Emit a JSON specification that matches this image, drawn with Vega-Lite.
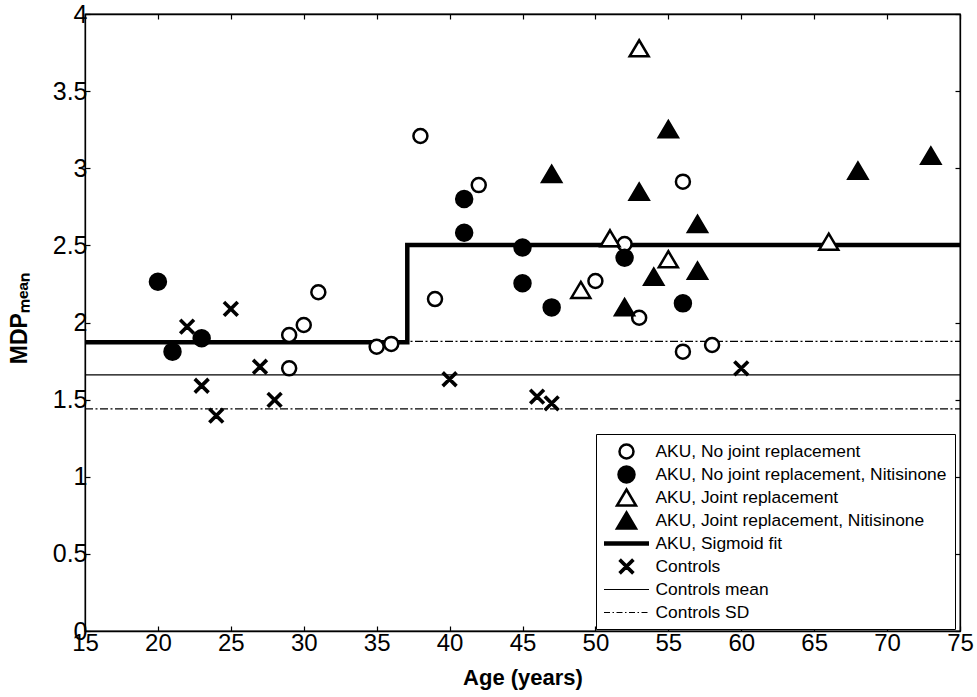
{
  "$schema": "https://vega.github.io/schema/vega-lite/v6.json",
  "width": 875,
  "height": 617,
  "autosize": {"type": "none"},
  "padding": {"left": 85, "top": 14, "right": 17, "bottom": 66},
  "background": "white",
  "config": {
    "font": "Liberation Sans",
    "view": {"stroke": "black", "strokeWidth": 1.3},
    "axis": {"grid": false, "domainColor": "black", "domainWidth": 1.3, "tickColor": "black", "tickWidth": 1.2, "labelColor": "black", "titleColor": "black", "labelFlush": false, "labelOverlap": false},
    "legend": {"title": null, "orient": "none", "legendX": 511, "legendY": 420, "strokeColor": "black", "fillColor": "white", "padding": 8, "labelFontSize": 17.4, "labelColor": "black", "symbolOffset": 13, "labelOffset": 19.5, "labelLimit": 500, "rowPadding": -4.5, "gridAlign": "all", "symbolSize": 256, "symbolStrokeWidth": 2.5}
  },
  "datasets": {
    "pts": [
      {"age": 29, "mdp": 1.919, "series": "AKU, No joint replacement"},
      {"age": 29, "mdp": 1.703, "series": "AKU, No joint replacement"},
      {"age": 30, "mdp": 1.984, "series": "AKU, No joint replacement"},
      {"age": 31, "mdp": 2.196, "series": "AKU, No joint replacement"},
      {"age": 35, "mdp": 1.843, "series": "AKU, No joint replacement"},
      {"age": 36, "mdp": 1.861, "series": "AKU, No joint replacement"},
      {"age": 38, "mdp": 3.209, "series": "AKU, No joint replacement"},
      {"age": 39, "mdp": 2.152, "series": "AKU, No joint replacement"},
      {"age": 42, "mdp": 2.891, "series": "AKU, No joint replacement"},
      {"age": 50, "mdp": 2.269, "series": "AKU, No joint replacement"},
      {"age": 52, "mdp": 2.509, "series": "AKU, No joint replacement"},
      {"age": 53, "mdp": 2.031, "series": "AKU, No joint replacement"},
      {"age": 56, "mdp": 2.913, "series": "AKU, No joint replacement"},
      {"age": 56, "mdp": 1.811, "series": "AKU, No joint replacement"},
      {"age": 58, "mdp": 1.854, "series": "AKU, No joint replacement"},
      {"age": 20, "mdp": 2.264, "series": "AKU, No joint replacement, Nitisinone"},
      {"age": 21, "mdp": 1.811, "series": "AKU, No joint replacement, Nitisinone"},
      {"age": 23, "mdp": 1.898, "series": "AKU, No joint replacement, Nitisinone"},
      {"age": 41, "mdp": 2.801, "series": "AKU, No joint replacement, Nitisinone"},
      {"age": 41, "mdp": 2.582, "series": "AKU, No joint replacement, Nitisinone"},
      {"age": 45, "mdp": 2.486, "series": "AKU, No joint replacement, Nitisinone"},
      {"age": 45, "mdp": 2.254, "series": "AKU, No joint replacement, Nitisinone"},
      {"age": 47, "mdp": 2.098, "series": "AKU, No joint replacement, Nitisinone"},
      {"age": 52, "mdp": 2.42, "series": "AKU, No joint replacement, Nitisinone"},
      {"age": 56, "mdp": 2.124, "series": "AKU, No joint replacement, Nitisinone"},
      {"age": 53, "mdp": 3.778, "series": "AKU, Joint replacement"},
      {"age": 51, "mdp": 2.546, "series": "AKU, Joint replacement"},
      {"age": 55, "mdp": 2.41, "series": "AKU, Joint replacement"},
      {"age": 49, "mdp": 2.211, "series": "AKU, Joint replacement"},
      {"age": 66, "mdp": 2.524, "series": "AKU, Joint replacement"},
      {"age": 55, "mdp": 3.253, "series": "AKU, Joint replacement, Nitisinone"},
      {"age": 47, "mdp": 2.963, "series": "AKU, Joint replacement, Nitisinone"},
      {"age": 53, "mdp": 2.848, "series": "AKU, Joint replacement, Nitisinone"},
      {"age": 57, "mdp": 2.639, "series": "AKU, Joint replacement, Nitisinone"},
      {"age": 57, "mdp": 2.336, "series": "AKU, Joint replacement, Nitisinone"},
      {"age": 54, "mdp": 2.297, "series": "AKU, Joint replacement, Nitisinone"},
      {"age": 52, "mdp": 2.099, "series": "AKU, Joint replacement, Nitisinone"},
      {"age": 68, "mdp": 2.984, "series": "AKU, Joint replacement, Nitisinone"},
      {"age": 73, "mdp": 3.081, "series": "AKU, Joint replacement, Nitisinone"},
      {"age": 22, "mdp": 1.973, "series": "Controls"},
      {"age": 25, "mdp": 2.088, "series": "Controls"},
      {"age": 23, "mdp": 1.59, "series": "Controls"},
      {"age": 24, "mdp": 1.396, "series": "Controls"},
      {"age": 27, "mdp": 1.713, "series": "Controls"},
      {"age": 28, "mdp": 1.498, "series": "Controls"},
      {"age": 40, "mdp": 1.632, "series": "Controls"},
      {"age": 46, "mdp": 1.519, "series": "Controls"},
      {"age": 47, "mdp": 1.476, "series": "Controls"},
      {"age": 60, "mdp": 1.703, "series": "Controls"}
    ],
    "sigmoid": [
      {"age": 15, "mdp": 1.872, "o": 1},
      {"age": 37.1, "mdp": 1.872, "o": 2},
      {"age": 37.1, "mdp": 2.502, "o": 3},
      {"age": 75, "mdp": 2.502, "o": 4}
    ],
    "mean": [
      {"age": 15, "mdp": 1.66},
      {"age": 75, "mdp": 1.66}
    ],
    "sd": [
      {"age": 15, "mdp": 1.877, "g": "upper"},
      {"age": 75, "mdp": 1.877, "g": "upper"},
      {"age": 15, "mdp": 1.44, "g": "lower"},
      {"age": 75, "mdp": 1.44, "g": "lower"}
    ]
  },
  "layer": [
    {
      "data": {"name": "sd"},
      "mark": {"type": "line", "color": "black", "strokeWidth": 1.2, "strokeDash": [8, 2.5, 2, 2.5]},
      "encoding": {
        "x": {"field": "age", "type": "quantitative", "scale": {"domain": [15, 75], "nice": false, "zero": false}, "axis": null},
        "y": {"field": "mdp", "type": "quantitative", "scale": {"domain": [0, 4], "nice": false, "zero": false}, "axis": null},
        "detail": {"field": "g"}
      }
    },
    {
      "data": {"name": "mean"},
      "mark": {"type": "line", "color": "black", "strokeWidth": 1.2},
      "encoding": {
        "x": {"field": "age", "type": "quantitative", "scale": {"domain": [15, 75], "nice": false, "zero": false}, "axis": {"orient": "top", "values": [15, 20, 25, 30, 35, 40, 45, 50, 55, 60, 65, 70, 75], "labels": false, "title": null, "tickSize": -5}},
        "y": {"field": "mdp", "type": "quantitative", "scale": {"domain": [0, 4], "nice": false, "zero": false}, "axis": {"orient": "right", "values": [0, 0.5, 1, 1.5, 2, 2.5, 3, 3.5, 4], "labels": false, "title": null, "tickSize": -5}}
      }
    },
    {
      "data": {"name": "sigmoid"},
      "mark": {"type": "line", "color": "black", "strokeWidth": 4.5, "strokeJoin": "miter"},
      "encoding": {
        "x": {"field": "age", "type": "quantitative", "scale": {"domain": [15, 75], "nice": false, "zero": false}, "axis": null},
        "y": {"field": "mdp", "type": "quantitative", "scale": {"domain": [0, 4], "nice": false, "zero": false}, "axis": null},
        "order": {"field": "o", "type": "quantitative"}
      }
    },
    {
      "data": {"name": "pts"},
      "mark": {"type": "point", "size": 256, "strokeWidth": 2.5, "opacity": 1},
      "encoding": {
        "x": {"field": "age", "type": "quantitative", "scale": {"domain": [15, 75], "nice": false, "zero": false}, "axis": {"orient": "bottom", "values": [15, 20, 25, 30, 35, 40, 45, 50, 55, 60, 65, 70, 75], "title": "Age (years)", "titleFontSize": 22, "titleFontWeight": "bold", "titleY": 53, "titleBaseline": "alphabetic", "labelFontSize": 24, "labelPadding": 5, "tickSize": -5}},
        "y": {"field": "mdp", "type": "quantitative", "scale": {"domain": [0, 4], "nice": false, "zero": false}, "axis": {"orient": "left", "values": [0, 0.5, 1, 1.5, 2, 2.5, 3, 3.5, 4], "format": "~g", "title": "MDPₘₑₐₙ", "titleFontSize": 23, "titleFontWeight": "bold", "titleX": -59, "titleY": 304, "titleAngle": -90, "titleAlign": "center", "titleBaseline": "alphabetic", "labelFontSize": 25, "labelPadding": 3, "tickSize": -5}},
        "shape": {
          "field": "series", "type": "nominal",
          "scale": {
            "domain": ["AKU, No joint replacement", "AKU, No joint replacement, Nitisinone", "AKU, Joint replacement", "AKU, Joint replacement, Nitisinone", "AKU, Sigmoid fit", "Controls", "Controls mean", "Controls SD"],
            "range": [
              "M0.875,0A0.875,0.875,0,1,1,-0.875,0A0.875,0.875,0,1,1,0.875,0Z",
              "M1,0A1,1,0,1,1,-1,0A1,1,0,1,1,1,0Z",
              "M0,-1L1.1875,1L-1.1875,1Z",
              "M0,-1L1.1875,1L-1.1875,1Z",
              "M-2.8125,-0.281H2.8125V0.281H-2.8125Z",
              "M-0.7,-0.8L0.8,0.7L0.7,0.8L-0.8,-0.7ZM-0.7,0.8L0.8,-0.7L0.7,-0.8L-0.8,0.7Z",
              "M-2.8125,-0.07H2.8125V0.07H-2.8125Z",
              "M-2.8125,-0.07H-2.062V0.07H-2.8125ZM-1.749,-0.07H-1.564V0.07H-1.749ZM-1.249,-0.07H-0.501V0.07H-1.249ZM-0.188,-0.07H0V0.07H-0.188ZM0.312,-0.07H1.063V0.07H0.312ZM1.375,-0.07H1.564V0.07H1.375ZM1.876,-0.07H2.624V0.07H1.876Z"
            ]
          }
        },
        "fill": {
          "field": "series", "type": "nominal",
          "scale": {
            "domain": ["AKU, No joint replacement", "AKU, No joint replacement, Nitisinone", "AKU, Joint replacement", "AKU, Joint replacement, Nitisinone", "AKU, Sigmoid fit", "Controls", "Controls mean", "Controls SD"],
            "range": ["white", "black", "white", "black", "black", "black", "black", "black"]
          }
        },
        "stroke": {
          "field": "series", "type": "nominal",
          "scale": {
            "domain": ["AKU, No joint replacement", "AKU, No joint replacement, Nitisinone", "AKU, Joint replacement", "AKU, Joint replacement, Nitisinone", "AKU, Sigmoid fit", "Controls", "Controls mean", "Controls SD"],
            "range": ["black", "black", "black", "black", "transparent", "black", "transparent", "transparent"]
          }
        }
      }
    }
  ],
  "resolve": {"axis": {"x": "independent", "y": "independent"}}
}
